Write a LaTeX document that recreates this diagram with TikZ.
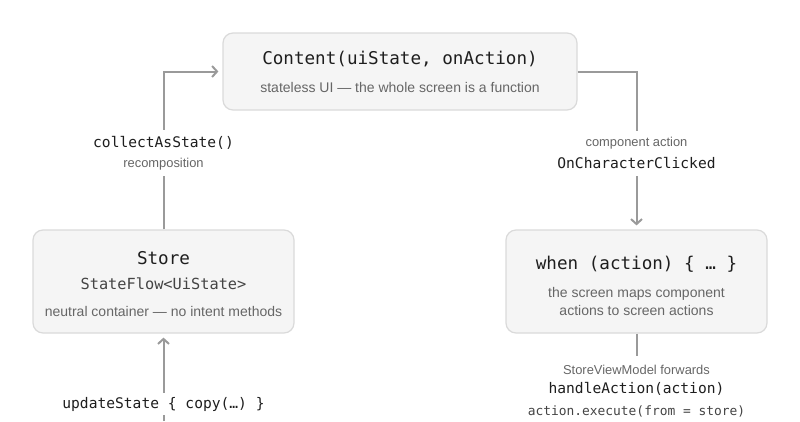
\documentclass[tikz,border=0pt]{standalone}
\usepackage{fontspec}
\setmainfont{Liberation Sans}
\setmonofont{DejaVu Sans Mono}
\usetikzlibrary{arrows.meta}
\definecolor{boxfill}{HTML}{F5F5F5}
\definecolor{boxline}{HTML}{DADADA}
\definecolor{flowgray}{HTML}{9A9A9A}
\definecolor{subgray}{HTML}{666666}
\definecolor{codegray}{HTML}{444444}
\definecolor{ink}{HTML}{1E1E1E}
\begin{document}
\begin{tikzpicture}[x=1pt,y=-1pt,
  box/.style={draw=boxline,line width=1.2pt,fill=boxfill,rounded corners=10pt,inner sep=0pt,minimum width=261pt,minimum height=103pt},
  flow/.style={draw=flowgray,line width=2pt},
  tip/.style={-{Straight Barb[length=5pt,width=11pt]},shorten >=4pt},
  title/.style={font=\fontsize{17.6}{20}\selectfont\ttfamily,text=ink},
  code/.style={font=\fontsize{14.6}{17}\selectfont\ttfamily,text=ink},
  note/.style={font=\fontsize{14}{18}\selectfont,text=subgray,align=center},
  small/.style={font=\fontsize{12.9}{14}\selectfont,text=subgray},
  lbl/.style={fill=white,inner sep=3pt}]
\useasboundingbox (0,0) rectangle (800,421);
% boxes
\node[box,minimum width=354pt,minimum height=77pt] (content) at (400,71.5) {};
\node[box] (store) at (163.5,281.5) {};
\node[box] (when) at (636.5,281.5) {};
\node[title] (contenttitle) at (400,59) {Content(uiState, onAction)};
\node[note] (contentnote) at (400,87) {stateless UI — the whole screen is a function};
\node[title] (storetitle) at (163.5,258) {Store};
\node[code,font=\fontsize{15.3}{17}\selectfont\ttfamily,text=codegray] (storeflow) at (163.5,284) {StateFlow<UiState>};
\node[note] (storenote) at (163.5,311) {neutral container — no intent methods};
\node[title] (whentitle) at (636.5,264) {when (action) \{ … \}};
\node[note] (whennote) at (636.5,301) {the screen maps component\\actions to screen actions};
% connectors
\coordinate (upd) at (163.5,421);
\coordinate (fwd) at (636.5,356);
\draw[flow,tip] (store.north) |- (content.west);
\draw[flow,tip] (content.east) -| (when.north);
\draw[flow,tip] (upd) -- (store.south);
\draw[flow] (when.south) -- (fwd);
% labels
\node[code,lbl,minimum height=26pt] (collect) at (163.5,143) {collectAsState()};
\node[small,lbl,minimum height=24pt] (recomp) at (163.5,164) {recomposition};
\node[small,lbl,minimum height=24pt] (compaction) at (636.5,143) {component action};
\node[code,lbl,minimum height=26pt] (clicked) at (636.5,163) {OnCharacterClicked};
\node[code,lbl,minimum height=22pt] (update) at (163.5,404) {updateState \{ copy(…) \}};
\node[small] (forwards) at (636.5,370) {StoreViewModel forwards};
\node[code] (handle) at (636.5,389) {handleAction(action)};
\node[code,font=\fontsize{12.9}{15}\selectfont\ttfamily,text=codegray] (execute) at (636.5,411) {action.execute(from = store)};
\end{tikzpicture}
\end{document}
